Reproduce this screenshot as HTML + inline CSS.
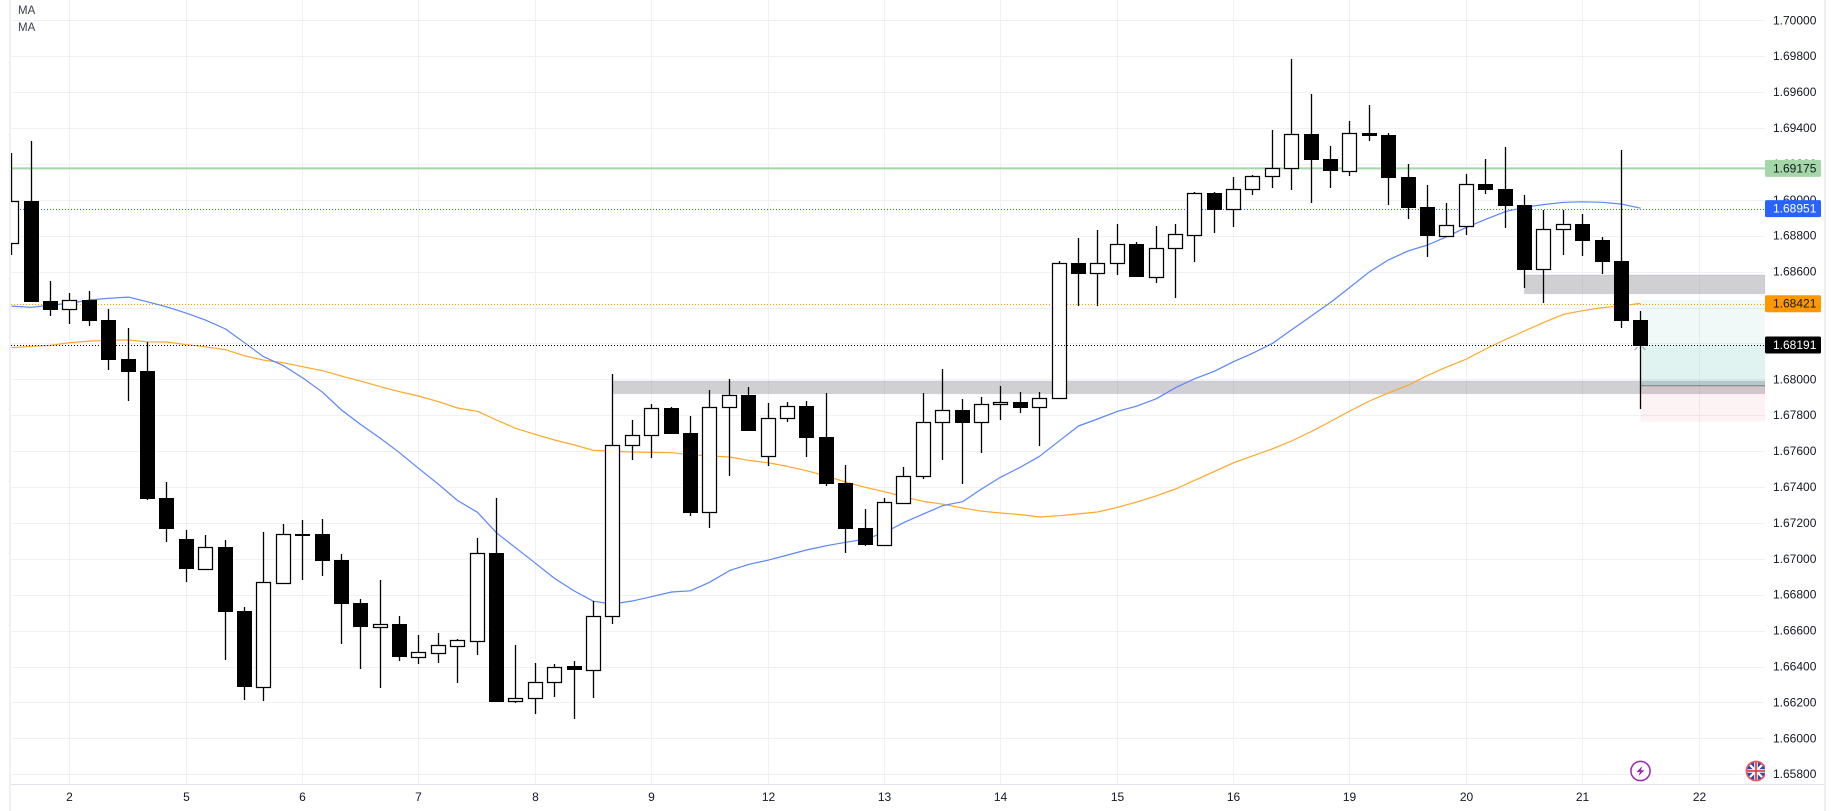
<!DOCTYPE html>
<html lang="en">
<head>
<meta charset="utf-8">
<title>Candlestick chart</title>
<style>
html,body{margin:0;padding:0;background:#fff;width:1834px;height:811px;overflow:hidden}
svg{display:block;font-family:"Liberation Sans",sans-serif}
</style>
</head>
<body>
<svg id="chart" xmlns="http://www.w3.org/2000/svg" width="1834" height="811" viewBox="0 0 1834 811">
  <defs><clipPath id="plot-clip"><rect x="11" y="0" width="1754" height="784"/></clipPath></defs>
  <rect x="0" y="0" width="1834" height="811" fill="#ffffff"/>
  <g id="plot" clip-path="url(#plot-clip)"></g>
  <g id="axes"></g>
  <rect x="9" y="0" width="2" height="811" fill="#eef0f6"/>
  <rect x="1824" y="0" width="2" height="811" fill="#eef0f6"/>
  <text x="18" y="14" font-size="11.5" fill="#3d404b">MA</text>
  <text x="18" y="31" font-size="11.5" fill="#3d404b">MA</text>
</svg>
<script>
const opens=[1.68758,1.68993,1.68436,1.68390,1.68442,1.68330,1.68113,1.68046,1.67339,1.67109,1.66945,1.67066,1.66709,1.66287,1.66867,1.67140,1.67138,1.66993,1.66754,1.66622,1.66637,1.66455,1.66477,1.66516,1.66544,1.67032,1.66208,1.66224,1.66314,1.66403,1.66382,1.66680,1.67632,1.67688,1.67840,1.67701,1.67259,1.67844,1.67912,1.67574,1.67783,1.67851,1.67679,1.67422,1.67172,1.67079,1.67313,1.67460,1.67760,1.67829,1.67760,1.67861,1.67874,1.67844,1.67894,1.68648,1.68590,1.68646,1.68754,1.68571,1.68730,1.68806,1.69038,1.68947,1.69058,1.69131,1.69175,1.69367,1.69227,1.69162,1.69372,1.69361,1.69127,1.68960,1.68800,1.68856,1.69088,1.69060,1.68971,1.68613,1.68836,1.68865,1.68776,1.68659,1.68330];
const highs=[1.69259,1.69328,1.68548,1.68481,1.68492,1.68392,1.68286,1.68208,1.67428,1.67160,1.67133,1.67105,1.66731,1.67149,1.67194,1.67216,1.67222,1.67027,1.66774,1.66882,1.66681,1.66575,1.66585,1.66553,1.67114,1.67339,1.66520,1.66419,1.66414,1.66429,1.66763,1.68029,1.67773,1.67862,1.67844,1.67796,1.67940,1.68002,1.67957,1.67868,1.67874,1.67879,1.67924,1.67523,1.67277,1.67339,1.67511,1.67924,1.68057,1.67890,1.67901,1.67963,1.67929,1.67929,1.68659,1.68787,1.68832,1.68865,1.68765,1.68854,1.68865,1.69042,1.69042,1.69127,1.69138,1.69389,1.69784,1.69589,1.69300,1.69439,1.69528,1.69372,1.69199,1.69082,1.68982,1.69144,1.69227,1.69294,1.69027,1.68943,1.68943,1.68921,1.68793,1.69277,1.68380];
const lows=[1.68692,1.68431,1.68354,1.68310,1.68299,1.68053,1.67881,1.67328,1.67095,1.66871,1.66938,1.66438,1.66213,1.66208,1.66860,1.66884,1.66906,1.66525,1.66388,1.66282,1.66432,1.66414,1.66421,1.66310,1.66464,1.66202,1.66197,1.66135,1.66230,1.66109,1.66226,1.66638,1.67552,1.67563,1.67697,1.67240,1.67173,1.67463,1.67712,1.67519,1.67762,1.67567,1.67406,1.67032,1.67071,1.67079,1.67307,1.67446,1.67552,1.67418,1.67591,1.67775,1.67814,1.67630,1.67894,1.68410,1.68410,1.68583,1.68571,1.68538,1.68455,1.68655,1.68817,1.68850,1.69027,1.69067,1.69056,1.68984,1.69067,1.69134,1.69329,1.68971,1.68893,1.68681,1.68800,1.68806,1.69032,1.68843,1.68509,1.68425,1.68692,1.68687,1.68586,1.68286,1.67834];
const closes=[1.68992,1.68431,1.68386,1.68440,1.68326,1.68107,1.68041,1.67333,1.67168,1.66943,1.67064,1.66705,1.66287,1.66869,1.67136,1.67133,1.66989,1.66750,1.66620,1.66635,1.66453,1.66479,1.66518,1.66546,1.67031,1.66202,1.66224,1.66314,1.66397,1.66380,1.66680,1.67632,1.67688,1.67838,1.67697,1.67257,1.67844,1.67911,1.67712,1.67783,1.67850,1.67675,1.67417,1.67166,1.67077,1.67315,1.67460,1.67760,1.67827,1.67758,1.67861,1.67872,1.67840,1.67894,1.68646,1.68588,1.68646,1.68752,1.68571,1.68730,1.68808,1.69036,1.68943,1.69058,1.69131,1.69175,1.69365,1.69222,1.69160,1.69370,1.69355,1.69123,1.68954,1.68798,1.68858,1.69086,1.69055,1.68965,1.68609,1.68836,1.68863,1.68770,1.68653,1.68325,1.68187];
const maFast=[1.68408,1.68401,1.68414,1.68423,1.68442,1.68451,1.68458,1.68432,1.68404,1.68368,1.68330,1.68280,1.68204,1.68126,1.68076,1.68009,1.67928,1.67829,1.67749,1.67671,1.67591,1.67504,1.67415,1.67325,1.67259,1.67145,1.67062,1.66975,1.66891,1.66820,1.66763,1.66748,1.66765,1.66789,1.66815,1.66822,1.66869,1.66934,1.66969,1.66993,1.67021,1.67049,1.67073,1.67092,1.67109,1.67146,1.67201,1.67250,1.67296,1.67318,1.67389,1.67454,1.67511,1.67571,1.67658,1.67740,1.67779,1.67822,1.67850,1.67892,1.67953,1.68003,1.68045,1.68098,1.68145,1.68200,1.68275,1.68353,1.68428,1.68511,1.68599,1.68665,1.68716,1.68748,1.68794,1.68847,1.68891,1.68934,1.68958,1.68973,1.68986,1.68989,1.68986,1.68976,1.68953];
const maSlow=[1.68176,1.68184,1.68189,1.68204,1.68213,1.68217,1.68219,1.68209,1.68208,1.68193,1.68181,1.68165,1.68131,1.68107,1.68092,1.68070,1.68048,1.68018,1.67990,1.67959,1.67931,1.67907,1.67875,1.67840,1.67822,1.67773,1.67727,1.67693,1.67662,1.67634,1.67604,1.67600,1.67595,1.67593,1.67591,1.67580,1.67573,1.67567,1.67549,1.67535,1.67515,1.67491,1.67461,1.67428,1.67398,1.67374,1.67346,1.67320,1.67304,1.67283,1.67265,1.67255,1.67246,1.67233,1.67240,1.67250,1.67261,1.67287,1.67316,1.67351,1.67389,1.67437,1.67487,1.67535,1.67573,1.67613,1.67656,1.67709,1.67765,1.67823,1.67879,1.67924,1.67968,1.68021,1.68068,1.68113,1.68169,1.68222,1.68269,1.68316,1.68362,1.68382,1.68399,1.68410,1.68423];
const priceTicks=[1.70000,1.69800,1.69600,1.69400,1.69200,1.69000,1.68800,1.68600,1.68400,1.68200,1.68000,1.67800,1.67600,1.67400,1.67200,1.67000,1.66800,1.66600,1.66400,1.66200,1.66000,1.65800];
const dayLabels=['2','5','6','7','8','9','12','13','14','15','16','19','20','21','22'];
const targetLevel=1.69175;
const stopLevel=1.68951;
const orderLevel=1.68421;
const lastPrice=1.68191;
const zoneLower=[1.67920,1.67990];
const zoneUpper=[1.68477,1.68581];
const positionEntry=1.67964;
const positionTarget=1.68442;
const positionStop=1.67764;
const zoneLowerStartIndex=31;
const zoneUpperStartIndex=78;
const positionStartIndex=84;

const NS='http://www.w3.org/2000/svg';
const plotRight=1765;
const axisY=784;
function yOf(p){return 20.3+(1.7-p)*17950;}
function xOf(i){return Math.round(11.2+19.395*i)+0.5;}
function make(tag,attrs,parent){
  const el=document.createElementNS(NS,tag);
  for(const k in attrs){el.setAttribute(k,attrs[k]);}
  parent.appendChild(el);
  return el;
}
const plot=document.getElementById('plot');
const axes=document.getElementById('axes');

// grid
priceTicks.forEach(function(p){
  const y=Math.round(yOf(p))+0.5;
  const el=make('line',{x1:11,x2:plotRight,y1:y,y2:y,stroke:'#eff1f5','stroke-width':1},plot);
  
  
});
dayLabels.forEach(function(d,k){
  const x=xOf(3+6*k);
  const el=make('line',{x1:x,x2:x,y1:0,y2:axisY,stroke:'#eff1f5','stroke-width':1},plot);
  
  
});

// supply and demand zones
const zoneA=make('rect',{x:xOf(zoneLowerStartIndex)+1,y:yOf(zoneLower[1]),width:plotRight-xOf(zoneLowerStartIndex)-1,height:yOf(zoneLower[0])-yOf(zoneLower[1]),fill:'rgba(150,150,155,.45)',stroke:'rgba(149,117,205,.2)','stroke-width':1},plot);


const zoneB=make('rect',{x:xOf(zoneUpperStartIndex),y:yOf(zoneUpper[1]),width:plotRight-xOf(zoneUpperStartIndex),height:yOf(zoneUpper[0])-yOf(zoneUpper[1]),fill:'rgba(150,150,155,.45)',stroke:'rgba(149,117,205,.2)','stroke-width':1},plot);



// long position tool
const posX=xOf(positionStartIndex);
const posProfit=make('rect',{x:posX,y:yOf(positionTarget),width:plotRight-posX,height:yOf(positionEntry)-yOf(positionTarget),fill:'rgba(8,153,129,.06)'},plot);


const posOpen=make('rect',{x:posX,y:yOf(lastPrice),width:plotRight-posX,height:yOf(positionEntry)-yOf(lastPrice),fill:'rgba(8,153,129,.06)'},plot);


const posLoss=make('rect',{x:posX,y:yOf(positionEntry),width:plotRight-posX,height:yOf(positionStop)-yOf(positionEntry),fill:'rgba(242,54,69,.06)'},plot);


const posLine=make('line',{x1:posX,x2:plotRight,y1:yOf(positionEntry),y2:yOf(positionEntry),stroke:'#787b86','stroke-width':1},plot);



// price level lines behind candles
const greenLine=make('line',{x1:11,x2:plotRight,y1:yOf(targetLevel),y2:yOf(targetLevel),stroke:'#a5d6a7','stroke-width':2},plot);


const blueLine=make('line',{x1:11,x2:plotRight,y1:Math.round(yOf(stopLevel))+0.5,y2:Math.round(yOf(stopLevel))+0.5,stroke:'#2962ff','stroke-width':1,'stroke-dasharray':'1 2'},plot);


const orangeLine=make('line',{x1:11,x2:plotRight,y1:Math.round(yOf(orderLevel))+0.5,y2:Math.round(yOf(orderLevel))+0.5,stroke:'#ff9800','stroke-width':1,'stroke-dasharray':'1 2'},plot);



// moving averages
function polyPoints(values){
  return values.map(function(v,i){return xOf(i)+','+yOf(v).toFixed(1);}).join(' ');
}
const slowLine=make('polyline',{points:polyPoints(maSlow),fill:'none',stroke:'#ffa726','stroke-width':1.2,'stroke-linejoin':'round'},plot);


const fastLine=make('polyline',{points:polyPoints(maFast),fill:'none',stroke:'#5a86fb','stroke-width':1.2,'stroke-linejoin':'round'},plot);



// candles
closes.forEach(function(c,i){
  const o=opens[i];
  const x=xOf(i);
  const g=make('g',{},plot);
  
  
  const yh=Math.round(yOf(highs[i]));
  const yl=Math.round(yOf(lows[i]));
  const wick=make('rect',{x:x-0.65,y:yh,width:1.3,height:Math.max(yl-yh,1),fill:'#000'},g);
  
  
  const top=Math.round(yOf(Math.max(o,c)));
  const bot=Math.round(yOf(Math.min(o,c)));
  let body;
  if(c<o){
    body=make('rect',{x:x-7.5,y:top,width:15,height:Math.max(bot-top,2),fill:'#000'},g);
  }else{
    body=make('rect',{x:x-7,y:top+0.5,width:14,height:Math.max(bot-top,1),fill:'#fff',stroke:'#000','stroke-width':1.25},g);
  }
  
  
});

// current price line above candles
const lastLine=make('line',{x1:11,x2:plotRight,y1:Math.round(yOf(lastPrice))+0.5,y2:Math.round(yOf(lastPrice))+0.5,stroke:'#000','stroke-width':1,'stroke-dasharray':'1 2'},plot);



// small position handles
const handle=make('path',{d:'M'+(posX-6)+' '+(yOf(lastPrice)+5)+'l3 -3M'+(posX+2)+' '+(yOf(lastPrice)+2)+'l3 3',stroke:'#9598a1','stroke-width':1,fill:'none'},plot);



// event icons
const boltGroup=make('g',{transform:'translate('+posX+',771)'},plot);


make('circle',{r:9.6,fill:'#fff',stroke:'#9c27b0','stroke-width':1.5},boltGroup);
make('path',{d:'M1.8 -5 L-4 1 L-0.6 1 L-2 5 L4 -0.8 L0.4 -0.8 Z',fill:'#9c27b0'},boltGroup);

const flagGroup=make('g',{transform:'translate(1756,771)'},plot);


make('circle',{r:9.6,fill:'#1f4fa8',stroke:'#f7525f','stroke-width':1.6},flagGroup);
make('path',{d:'M-6 -6L6 6M6 -6L-6 6',stroke:'#fff','stroke-width':2.2},flagGroup);
make('path',{d:'M0 -8.6V8.6M-8.6 0H8.6',stroke:'#fff','stroke-width':3.6},flagGroup);
make('path',{d:'M0 -8.6V8.6M-8.6 0H8.6',stroke:'#e5404e','stroke-width':1.8},flagGroup);

// axes
const xAxis=make('line',{x1:11,x2:1824,y1:axisY+0.5,y2:axisY+0.5,stroke:'#e0e3eb','stroke-width':1},axes);


const fmt=function(p){return p.toFixed(5);};
priceTicks.forEach(function(p){
  const t=make('text',{x:1773,y:yOf(p)+4,'font-size':12,fill:'#131722'},axes);
  
  
  t.textContent=fmt(p);
});
dayLabels.forEach(function(d,k){
  const t=make('text',{x:xOf(3+6*k),y:801,'font-size':12,fill:'#131722','text-anchor':'middle'},axes);
  
  
  t.textContent=d;
});
function tag(price,bg,fg){
  const y=yOf(price);
  const g=make('g',{},axes);
  make('rect',{x:1765,y:y-8.5,width:56,height:17,rx:1.5,fill:bg},g);
  const t=make('text',{x:1773,y:y+4,'font-size':12,fill:fg},g);
  t.textContent=fmt(price);
  return g;
}
const greenTag=tag(targetLevel,'#a5d6a7','#131722');


const blueTag=tag(stopLevel,'#2962ff','#ffffff');


const orangeTag=tag(orderLevel,'#ff9800','#131722');


const lastTag=tag(lastPrice,'#000000','#ffffff');


</script>
</body>
</html>
